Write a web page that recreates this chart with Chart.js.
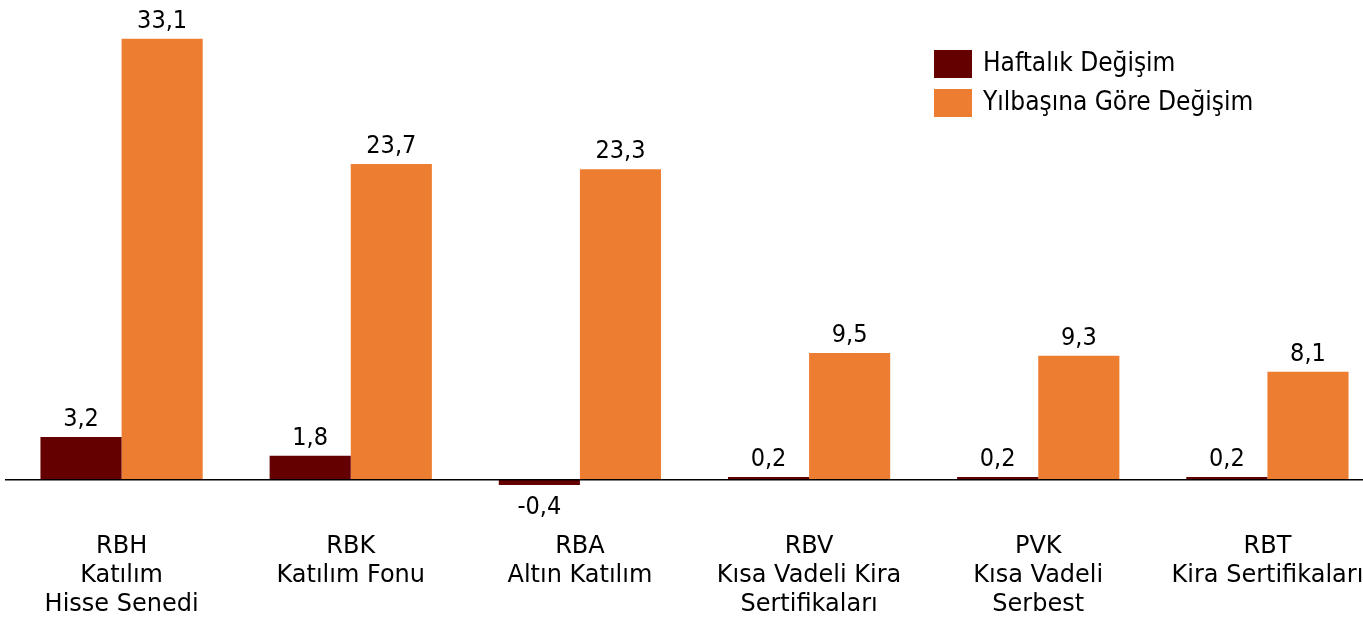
<!DOCTYPE html>
<html>
<head>
<meta charset="utf-8">
<script src="https://cdn.jsdelivr.net/npm/chart.js@4"></script>
<style>
  html, body { margin: 0; padding: 0; background: #fff; overflow: hidden; }
  #wrap { position: relative; width: 1382px; height: 621px; }
</style>
</head>
<body>
<div id="wrap"><canvas id="grafico"></canvas></div>
<script>
// data
var kategoriler = [
  ['RBH', 'Katılım', 'Hisse Senedi'],
  ['RBK', 'Katılım Fonu'],
  ['RBA', 'Altın Katılım'],
  ['RBV', 'Kısa Vadeli Kira', 'Sertifikaları'],
  ['PVK', 'Kısa Vadeli', 'Serbest'],
  ['RBT', 'Kira Sertifikaları']
]
var haftalik = [3.2, 1.8, -0.4, 0.2, 0.2, 0.2]
var yilbasi = [33.1, 23.7, 23.3, 9.5, 9.3, 8.1]
var seriAdlari = ['Haftalık Değişim', 'Yılbaşına Göre Değişim']
var renkler = ['#640000', '#ED7D31']

var yaziDar = "'DejaVu Sans Condensed', 'DejaVu Sans', sans-serif"
var yazi = "'DejaVu Sans', sans-serif"

// zero line, value labels and legend
const ekstra = {
  id: 'ekstra',
  afterDatasetsDraw(chart) {
    const ctx = chart.ctx
    const y0 = chart.scales.y.getPixelForValue(0)
    ctx.save()
    ctx.strokeStyle = '#000'
    ctx.lineWidth = 1.5
    ctx.beginPath()
    ctx.moveTo(5, y0)
    ctx.lineTo(chart.width, y0)
    ctx.stroke()

    ctx.fillStyle = '#000'
    ctx.font = '25px ' + yaziDar
    ctx.textAlign = 'center'
    chart.data.datasets.forEach(function (ds, i) {
      chart.getDatasetMeta(i).data.forEach(function (bar, j) {
        var v = ds.data[j]
        var txt = v.toFixed(1).replace('.', ',')
        if (v >= 0) {
          ctx.textBaseline = 'alphabetic'
          ctx.fillText(txt, bar.x, bar.y - 11)
        } else {
          ctx.textBaseline = 'top'
          ctx.fillText(txt, bar.x, bar.y + 10)
        }
      })
    })

    ctx.font = '26px ' + yaziDar
    ctx.textAlign = 'left'
    ctx.textBaseline = 'middle'
    seriAdlari.forEach(function (ad, i) {
      var top = 50 + i * 39
      ctx.fillStyle = renkler[i]
      ctx.fillRect(934, top, 38, 28)
      ctx.fillStyle = '#000'
      ctx.fillText(ad, 983, top + 14)
    })
    ctx.restore()
  }
}

new Chart(document.getElementById('grafico'), {
  type: 'bar',
  data: {
    labels: kategoriler,
    datasets: [
      { label: seriAdlari[0], data: haftalik, backgroundColor: renkler[0] },
      { label: seriAdlari[1], data: yilbasi, backgroundColor: renkler[1] }
    ]
  },
  options: {
    responsive: true,
    maintainAspectRatio: false,
    animation: false,
    datasets: { bar: { categoryPercentage: 0.708, barPercentage: 1 } },
    layout: { padding: { left: 7, right: 0, top: 0, bottom: 0 } },
    scales: {
      x: {
        grid: { display: false, drawTicks: false },
        border: { display: false },
        ticks: {
          color: '#000',
          padding: 39,
          maxRotation: 0,
          autoSkip: false,
          font: { family: yazi, size: 24, lineHeight: 1.22 }
        },
        afterFit: function (scale) {
          scale.height = 128
          scale.paddingLeft = 0
          scale.paddingRight = 0
        }
      },
      y: {
        display: false,
        min: -1,
        max: 36
      }
    },
    plugins: {
      legend: { display: false },
      tooltip: { enabled: false }
    }
  },
  plugins: [ekstra]
});
</script>
</body>
</html>
